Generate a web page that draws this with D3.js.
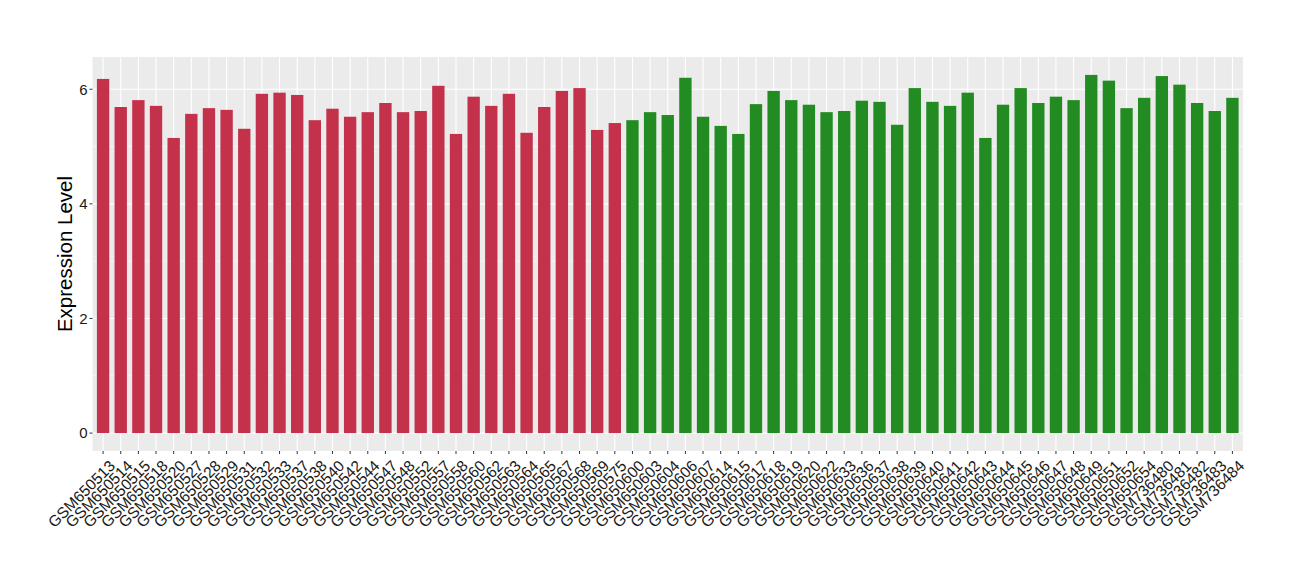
<!DOCTYPE html>
<html><head><meta charset="utf-8">
<script src="https://cdn.jsdelivr.net/npm/d3@7"></script>
<style>body{margin:0;background:#fff}svg{display:block}</style>
</head><body>
<script>
const samples = ["GSM650513","GSM650514","GSM650515","GSM650518","GSM650520","GSM650527","GSM650528","GSM650529","GSM650531","GSM650532","GSM650533","GSM650537","GSM650538","GSM650540","GSM650542","GSM650544","GSM650547","GSM650548","GSM650552","GSM650557","GSM650558","GSM650560","GSM650562","GSM650563","GSM650564","GSM650565","GSM650567","GSM650568","GSM650569","GSM650575","GSM650600","GSM650603","GSM650604","GSM650606","GSM650607","GSM650614","GSM650615","GSM650617","GSM650618","GSM650619","GSM650620","GSM650622","GSM650633","GSM650636","GSM650637","GSM650638","GSM650639","GSM650640","GSM650641","GSM650642","GSM650643","GSM650644","GSM650645","GSM650646","GSM650647","GSM650648","GSM650649","GSM650651","GSM650652","GSM650654","GSM736480","GSM736481","GSM736482","GSM736483","GSM736484"];
const values = [6.18,5.69,5.81,5.71,5.15,5.57,5.67,5.64,5.31,5.92,5.94,5.90,5.46,5.66,5.52,5.60,5.76,5.60,5.62,6.06,5.22,5.87,5.71,5.92,5.24,5.69,5.97,6.02,5.29,5.41,
5.46,5.60,5.55,6.20,5.52,5.36,5.22,5.74,5.97,5.81,5.73,5.60,5.62,5.80,5.78,5.38,6.02,5.78,5.71,5.94,5.15,5.73,6.02,5.76,5.87,5.81,6.25,6.15,5.67,5.85,6.23,6.08,5.76,5.62,5.85];
const groups = [].concat(Array(30).fill("A"), Array(35).fill("B"));
const groupColors = {A:"#C3314A", B:"#228B22"};
const yTicks = [0,2,4,6];
const yMinor = [1,3,5];

const W=1300,H=580;
const panel = {l:92.5,r:1243,t:57,b:451};
const FONT = "Liberation Sans, Arial, sans-serif";
const svg = d3.select("body").append("svg").attr("width",W).attr("height",H);

const n = samples.length;
const x = d3.scaleLinear().domain([-0.6, n-1+0.6]).range([panel.l, panel.r]);
const ymax = d3.max(values), pad = ymax*0.05;
const y = d3.scaleLinear().domain([-pad, ymax+pad]).range([panel.b, panel.t]);

svg.append("rect").attr("x",panel.l).attr("y",panel.t).attr("width",panel.r-panel.l).attr("height",panel.b-panel.t).attr("fill","#EBEBEB");

const g = svg.append("g");
g.selectAll(".ymin").data(yMinor).join("line").attr("x1",panel.l).attr("x2",panel.r)
 .attr("y1",d=>y(d)).attr("y2",d=>y(d)).attr("stroke","#fff").attr("stroke-width",0.55);
g.selectAll(".ymaj").data(yTicks).join("line").attr("x1",panel.l).attr("x2",panel.r)
 .attr("y1",d=>y(d)).attr("y2",d=>y(d)).attr("stroke","#fff").attr("stroke-width",1.1);
g.selectAll(".xmaj").data(samples).join("line").attr("y1",panel.t).attr("y2",panel.b)
 .attr("x1",(d,i)=>x(i)).attr("x2",(d,i)=>x(i)).attr("stroke","#fff").attr("stroke-width",1.1);

const bw = x(0.7)-x(0);
svg.selectAll(".bar").data(values).join("rect")
 .attr("x",(d,i)=>x(i)-bw/2).attr("width",bw)
 .attr("y",d=>y(d)).attr("height",d=>y(0)-y(d))
 .attr("fill",(d,i)=>groupColors[groups[i]]);

// y axis
const ya = svg.append("g");
yTicks.forEach(t=>{
  ya.append("line").attr("x1",panel.l-3).attr("x2",panel.l).attr("y1",y(t)).attr("y2",y(t)).attr("stroke","#333").attr("stroke-width",1);
  ya.append("text").attr("x",panel.l-5).attr("y",y(t)).attr("dy","0.36em").attr("text-anchor","end")
   .attr("font-family",FONT).attr("font-size",15).attr("fill","#1a1a1a").text(t);
});
// x axis
const xa = svg.append("g");
samples.forEach((s,i)=>{
  xa.append("line").attr("x1",x(i)).attr("x2",x(i)).attr("y1",panel.b).attr("y2",panel.b+3).attr("stroke","#333");
  xa.append("text").attr("transform",`translate(${x(i)+5},${panel.b+8}) rotate(-45)`)
   .attr("text-anchor","end").attr("dy","0.72em")
   .attr("font-family",FONT).attr("font-size",15.5).attr("fill","#1a1a1a").text(s);
});
svg.append("text").attr("transform",`translate(72,${(panel.t+panel.b)/2}) rotate(-90)`)
 .attr("text-anchor","middle").attr("font-family",FONT).attr("font-size",20.5).attr("fill","#000").text("Expression Level");
</script>
</body></html>
